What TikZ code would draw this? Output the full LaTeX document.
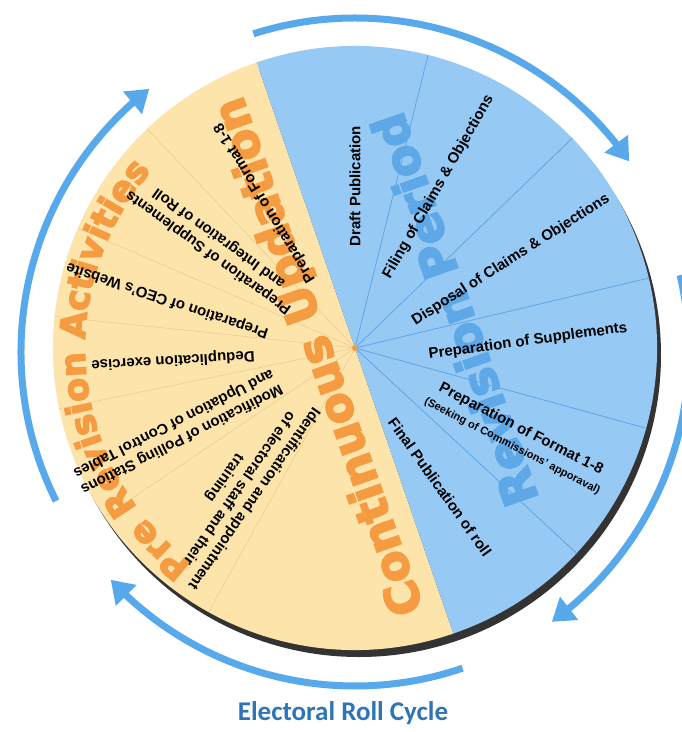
\documentclass[tikz,border=0pt]{standalone}
\usepackage{fontspec}
\setmainfont{Liberation Sans}
\newfontfamily\heavyfont{DejaVu Sans Bold}[FakeBold=4]
\newfontfamily\titlefont{Carlito}
\usetikzlibrary{arrows.meta}
\usetikzlibrary{bending}
\usetikzlibrary{decorations.text}

\definecolor{wheelblue}{RGB}{150,202,245}
\definecolor{wheelbeige}{RGB}{252,228,170}
\definecolor{spokeblue}{RGB}{95,165,230}
\definecolor{spokebeige}{RGB}{228,198,140}
\definecolor{markorange}{RGB}{245,155,65}
\definecolor{markblue}{RGB}{95,168,232}
\definecolor{cycleblue}{RGB}{88,168,236}
\definecolor{titleblue}{RGB}{46,117,182}

\begin{document}
\begin{tikzpicture}[
        x=1pt, y=1pt,
        task/.style={font=\bfseries\fontsize{15}{18}\selectfont, align=center, inner sep=0pt},
        bigword/.style={font=\heavyfont\fontsize{46}{46}\selectfont, inner sep=0pt},
        cyclearrow/.style={draw=cycleblue, line width=7pt, -{Triangle[length=22pt, width=28pt]}},
    ]

    \useasboundingbox (-355,-384) rectangle (327,348);

    \fill[black!80] (4,-7) circle (302);
    \fill[wheelbeige] (0,0) -- (109:302) arc[start angle=109, end angle=289, radius=302] -- cycle;
    \fill[wheelblue] (0,0) -- (109:302) arc[start angle=109, end angle=-71, radius=302] -- cycle;

    \foreach \a in {76, 44, 13.4, -15.4, -42.8}
        \draw[spokeblue, thick] (0,0) -- (\a:302);
    \foreach \a in {133.5, 156.6, 174, 191.6, 214, 241}
        \draw[spokebeige, thin] (0,0) -- (\a:302);

    \node[bigword, text=markblue, rotate=109.4, font=\heavyfont\fontsize{47}{47}\selectfont] (period) at (99,38) {Revision Period};
    \node[bigword, text=markorange, rotate=109.5] (updation) at (-34,-8) {Continuous Updation};
    \path[decorate, decoration={text along path, text align=center,
            text={|\heavyfont\fontsize{35}{35}\selectfont\color{markorange}|Pre Revision Activities}}]
        (258:270) arc[start angle=258, end angle=114, radius=270];

    \fill[markorange] (0,0) circle (3);

    \node[task, rotate=90] (draft) at (0,162) {Draft Publication};
    \node[task, rotate=60.2] (filing) at (83.5,161) {Filing of Claims \& Objections};
    \node[task, rotate=32.5] (disposal) at (156,88) {Disposal of Claims \& Objections};
    \node[task, rotate=7.7] (suppl) at (173,6.5) {Preparation of Supplements};
    \node[task, rotate=-27.4] (format) at (162,-89) {Preparation of Format 1-8\\{\fontsize{11}{12}\selectfont (Seeking of Commissions' apporaval)}};
    \node[task, rotate=-54.5] (final) at (85,-139) {Final Publication of roll};

    \node[task, rotate=121] (preformat) at (-90,145) {Preparation of Format 1-8};
    \node[task, rotate=144] (presuppl) at (-141,103) {Preparation of Supplements\\and Integration of Roll};
    \node[task, rotate=161.6] (website) at (-187.5,48) {Preparation of CEO's Website};
    \node[task, rotate=183.4] (dedup) at (-182,-12) {Deduplication exercise};
    \node[task, rotate=207] (polling) at (-177.5,-83) {Modification of Polling Stations\\and Updation of Control Tables};
    \node[task, rotate=235] (staff) at (-116,-140) {Identification and appointment\\of electoral staff and their\\training};

    \draw[cyclearrow] ([shift={(0,-4)}]107.7:334) arc[start angle=107.7, end angle=34.8, radius=334];
    \draw[cyclearrow] ([shift={(0,-4)}]13.3:334) arc[start angle=13.3, end angle=-53.9, radius=334];
    \draw[cyclearrow] ([shift={(0,-4)}]-71.2:334) arc[start angle=-71.2, end angle=-137, radius=334];
    \draw[cyclearrow] ([shift={(0,-4)}]206.5:334) arc[start angle=206.5, end angle=128, radius=334];

    \node[font=\titlefont\bfseries\fontsize{27}{30}\selectfont, text=titleblue] (title) at (-12,-365) {Electoral Roll Cycle};

\end{tikzpicture}
\end{document}
